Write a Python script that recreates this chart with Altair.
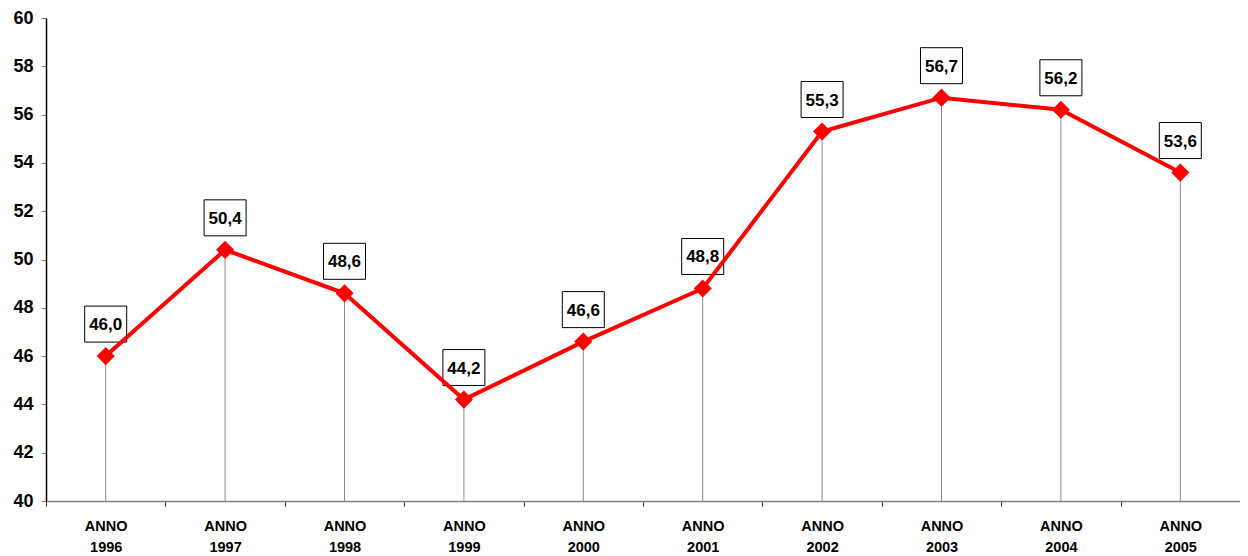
import altair as alt
import pandas as pd

years = ["1996", "1997", "1998", "1999", "2000", "2001", "2002", "2003", "2004", "2005"]
values = [46.0, 50.4, 48.6, 44.2, 46.6, 48.8, 55.3, 56.7, 56.2, 53.6]
labels = [f"{v:.1f}".replace(".", ",") for v in values]

df = pd.DataFrame({"year": years, "value": values, "label": labels})

FONT = "Liberation Sans"

x = alt.X(
    "year:N",
    sort=years,
    title=None,
    scale=alt.Scale(type="band", paddingInner=0, paddingOuter=0),
    axis=alt.Axis(
        labelExpr="datum.label ? ['ANNO', datum.label] : ''",
        labelAngle=0,
        labelFont=FONT,
        labelFontSize=14.5,
        labelFontWeight="bold",
        labelColor="black",
        labelLineHeight=21,
        labelPadding=13,
        tickBand="extent",
        tickSize=5,
        tickColor="#333333",
        domainColor="#808080",
        domainWidth=1.5,
        grid=False,
    ),
)

y = alt.Y(
    "value:Q",
    title=None,
    scale=alt.Scale(domain=[40, 60], nice=False, zero=False),
    axis=alt.Axis(
        values=list(range(40, 61, 2)),
        labelFont=FONT,
        labelFontSize=18,
        labelFontWeight="bold",
        labelColor="black",
        labelPadding=8,
        tickSize=5,
        tickColor="#808080",
        domainColor="black",
        domainWidth=1.5,
        grid=False,
    ),
)

base = alt.Chart(df)

rules = base.mark_rule(color="#8c8c8c", strokeWidth=1).encode(
    x=x, y=y, y2=alt.datum(40)
)

box_path = "M-1.1667,-1L1.1667,-1L1.1667,1L-1.1667,1Z"
boxes = base.mark_point(
    shape=box_path, size=1296, filled=True, fill="white", stroke="black",
    strokeWidth=1, opacity=1, yOffset=-32
).encode(x=x, y=y)

texts = base.mark_text(
    font=FONT, fontSize=17, fontWeight="bold", color="black",
    yOffset=-31, baseline="middle", align="center"
).encode(x=x, y=y, text="label:N")

line = base.mark_line(color="#ff0000", strokeWidth=4).encode(x=x, y=y)

points = base.mark_point(
    shape="diamond", size=330, filled=True, color="#ff0000", opacity=1
).encode(x=x, y=y)

chart = (
    alt.layer(rules, boxes, texts, line, points)
    .properties(
        width=1194,
        height=483,
        autosize=alt.AutoSizeParams(type="none"),
        padding={"left": 38, "top": 10, "right": 0, "bottom": 55},
        background="white",
    )
    .configure_view(stroke=None)
)

chart.save("out.html", embed_options={"renderer": "svg", "actions": False})
